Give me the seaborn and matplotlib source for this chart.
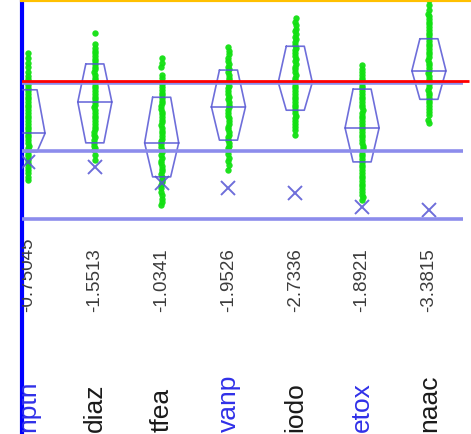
import numpy as np
import pandas as pd
import matplotlib
matplotlib.use("Agg")
import matplotlib.pyplot as plt
import seaborn as sns

sns.set_style("white")
plt.rcParams["font.family"] = ["Liberation Sans", "DejaVu Sans"]

# ---- data ----
categories = ["npth", "diaz", "tfea", "vanp", "iodo", "etox", "naac"]
scores = ["-0.75045", "-1.5513", "-1.0341", "-1.9526", "-2.7336", "-1.8921", "-3.3815"]
highlighted = ["npth", "vanp", "etox"]

q3 = [0.90, 1.28, 0.79, 1.19, 1.54, 0.91, 1.65]
median = [0.26, 0.72, 0.12, 0.65, 1.01, 0.34, 1.18]
q1 = [-0.01, 0.12, -0.38, 0.16, 0.60, -0.16, 0.76]
cross = [-0.16, -0.24, -0.47, -0.54, -0.62, -0.82, -0.87]

ref_red = 1.035
ref_blue = [1.0, 0.0, -1.0]

pts_npth = [1.44, 1.37, 1.30, 1.23, 1.16, 1.11, 1.06, 1.01, 0.97, 0.92, 0.88, 0.84,
            0.80, 0.76, 0.72, 0.68, 0.64, 0.60, 0.56, 0.52, 0.48, 0.44, 0.40, 0.36,
            0.32, 0.28, 0.24, 0.20, 0.16, 0.12, 0.08, 0.04, 0.00, -0.04, -0.08,
            -0.13, -0.18, -0.23, -0.28, -0.33, -0.38, -0.43]
pts_diaz = [1.74, 1.58, 1.52, 1.47, 1.44, 1.40, 1.36, 1.32, 1.28, 1.24, 1.20, 1.16,
            1.12, 1.08, 1.04, 1.00, 0.96, 0.92, 0.88, 0.84, 0.80, 0.76, 0.72, 0.68,
            0.64, 0.60, 0.56, 0.52, 0.48, 0.44, 0.40, 0.36, 0.32, 0.28, 0.24, 0.20,
            0.16, 0.12, 0.08, 0.04, 0.01, -0.06, -0.13]
pts_tfea = [1.37, 1.30, 1.23, 1.12, 1.07, 1.02, 0.98, 0.94, 0.90, 0.86, 0.82, 0.78,
            0.74, 0.70, 0.66, 0.62, 0.58, 0.54, 0.50, 0.46, 0.42, 0.38, 0.34, 0.30,
            0.26, 0.22, 0.18, 0.14, 0.10, 0.06, 0.02, -0.02, -0.06, -0.10, -0.14,
            -0.18, -0.22, -0.26, -0.30, -0.34, -0.38, -0.42, -0.46, -0.50, -0.55,
            -0.60, -0.65, -0.70, -0.75, -0.79]
pts_vanp = [1.53, 1.47, 1.42, 1.37, 1.32, 1.28, 1.24, 1.20, 1.16, 1.12, 1.08, 1.04,
            1.00, 0.96, 0.92, 0.88, 0.84, 0.80, 0.76, 0.72, 0.68, 0.64, 0.60, 0.56,
            0.52, 0.48, 0.44, 0.40, 0.36, 0.32, 0.28, 0.24, 0.20, 0.16, 0.12, 0.08,
            0.04, 0.00, -0.05, -0.10, -0.15, -0.21, -0.28]
pts_iodo = [1.96, 1.90, 1.85, 1.80, 1.76, 1.72, 1.68, 1.64, 1.60, 1.56, 1.52, 1.48,
            1.44, 1.40, 1.36, 1.32, 1.28, 1.24, 1.20, 1.16, 1.12, 1.08, 1.04, 1.00,
            0.96, 0.92, 0.88, 0.84, 0.80, 0.76, 0.72, 0.68, 0.64, 0.60, 0.56, 0.52,
            0.48, 0.44, 0.40, 0.36, 0.31, 0.24]
pts_etox = [1.26, 1.21, 1.16, 1.12, 1.08, 1.04, 1.00, 0.96, 0.92, 0.88, 0.84, 0.80,
            0.76, 0.72, 0.68, 0.64, 0.60, 0.56, 0.52, 0.48, 0.44, 0.40, 0.36, 0.32,
            0.28, 0.24, 0.20, 0.16, 0.12, 0.08, 0.04, 0.00, -0.04, -0.08, -0.12,
            -0.16, -0.20, -0.24, -0.28, -0.32, -0.36, -0.40, -0.44, -0.48, -0.52,
            -0.56, -0.60, -0.64, -0.68, -0.72]
pts_naac = [2.22, 2.15, 2.07, 2.02, 1.98, 1.94, 1.90, 1.86, 1.82, 1.78, 1.74, 1.70,
            1.66, 1.62, 1.58, 1.54, 1.50, 1.46, 1.42, 1.38, 1.34, 1.30, 1.26, 1.22,
            1.18, 1.14, 1.10, 1.06, 1.02, 0.98, 0.94, 0.90, 0.86, 0.82, 0.78, 0.74,
            0.70, 0.66, 0.62, 0.58, 0.53, 0.46, 0.41]
points = [pts_npth, pts_diaz, pts_tfea, pts_vanp, pts_iodo, pts_etox, pts_naac]

df = pd.DataFrame({
    "cat": [c for c, p in zip(categories, points) for _ in p],
    "val": [v for p in points for v in p],
})

# ---- figure ----
W, H = 471, 434
fig = plt.figure(figsize=(W / 100, H / 100), dpi=100)
fig.patch.set_facecolor("white")
ax = fig.add_axes([22 / W, 0, 1 - 22 / W, 1])

np.random.seed(3)
sns.stripplot(data=df, x="cat", y="val", order=categories, ax=ax,
              jitter=0.008, marker="o", color="#12e012", s=4.6, linewidth=0,
              alpha=0.95, zorder=2)

hw_narrow, hw_wide = 0.135, 0.255
box_col = "#5555d4"
for i in range(len(categories)):
    xs = [i - hw_narrow, i + hw_narrow, i + hw_wide, i + hw_narrow,
          i - hw_narrow, i - hw_wide, i - hw_narrow]
    ys = [q3[i], q3[i], median[i], q1[i], q1[i], median[i], q3[i]]
    ax.plot(xs, ys, color=box_col, lw=1.2, alpha=0.85, zorder=4)
    ax.plot([i - hw_wide, i + hw_wide], [median[i], median[i]],
            color=box_col, lw=1.2, alpha=0.85, zorder=4)
ax.plot(range(len(categories)), cross, linestyle="none", marker="x",
        markersize=10, mew=1.4, color=box_col, alpha=0.85, zorder=4)

xmin = -0.2
ax.hlines(ref_blue, xmin, 6.51, colors="#8c8cec", lw=2.6, zorder=5)
ax.hlines([ref_red], xmin, 6.60, colors="#ff0000", lw=2.0, zorder=6)

# labels below the plot band
for i, (c, s) in enumerate(zip(categories, scores)):
    ax.text(i, -2.37, s, rotation=90, ha="center", va="bottom",
            fontsize=13.5, color="#3c3c3c", clip_on=True)
    ax.text(i, -4.13, c, rotation=90, ha="center", va="bottom",
            fontsize=19, color="#3030e8" if c in highlighted else "#1a1a1a",
            clip_on=True)

ax.set_xlim(-0.09, 6.63)
ax.set_ylim(-4.16, 2.22)
ax.set_xticks([])
ax.set_yticks([])
ax.set_xlabel("")
ax.set_ylabel("")
for side in ["right", "bottom"]:
    ax.spines[side].set_visible(False)
ax.spines["left"].set_color("#0000ff")
ax.spines["left"].set_linewidth(3)
ax.spines["top"].set_color("#ffc000")
ax.spines["top"].set_linewidth(3)

fig.savefig("out.png", dpi=100, facecolor="white")
